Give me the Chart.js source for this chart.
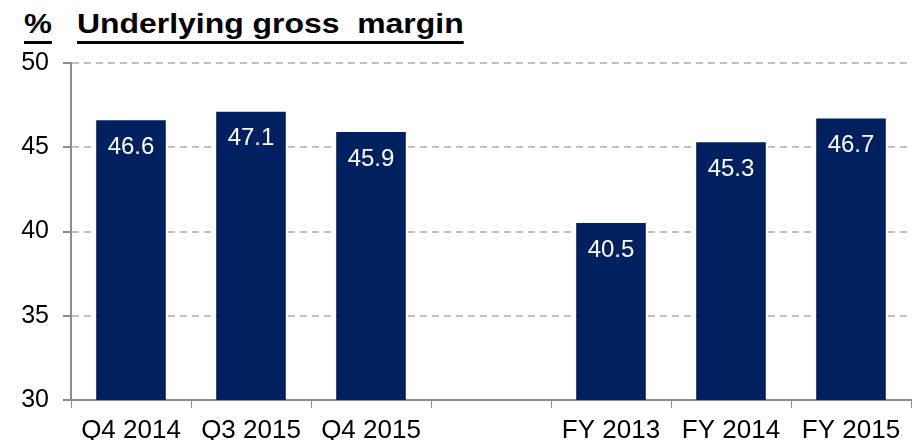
<!DOCTYPE html>
<html>
<head>
<meta charset="utf-8">
<script src="https://cdn.jsdelivr.net/npm/chart.js@4.4.1/dist/chart.umd.min.js"></script>
<style>
  html, body { margin: 0; padding: 0; background: #fff; }
  #wrap { position: relative; width: 913px; height: 440px; }
  .title {
    position: absolute; top: 10px; margin: 0;
    font-family: "Liberation Sans", Arial, sans-serif;
    font-weight: bold; font-size: 28px; line-height: 28px; color: #000;
    text-decoration: underline; text-decoration-thickness: 3px;
    text-underline-offset: 8px; white-space: pre;
    transform-origin: left top;
  }
  #unit { left: 24px; transform: scaleX(1.12); }
  #title { left: 77px; transform: scaleX(1.14); }
  canvas { position: absolute; left: 0; top: 0; }
</style>
</head>
<body>
<div id="wrap">
  <div class="title" id="unit">%</div>
  <div class="title" id="title">Underlying gross  margin</div>
  <canvas id="chart" width="913" height="440"></canvas>
</div>
<script>
// Chart data
const categories = ['Q4 2014', 'Q3 2015', 'Q4 2015', '', 'FY 2013', 'FY 2014', 'FY 2015'];
const grossMargin = [46.6, 47.1, 45.9, null, 40.5, 45.3, 46.7];
const yTicks = [30, 35, 40, 45, 50];

const NAVY = '#002060';
const AXIS_GREY = '#8c8c8c';
const GRID_GREY = '#c0c0c0';
const FONT = '"Liberation Sans", Arial, sans-serif';

// Draw value labels inside the top of each bar
const barLabels = {
    id: 'barLabels',
    afterDatasetsDraw(chart) {
        const ctx = chart.ctx;
        const meta = chart.getDatasetMeta(0);
        ctx.save();
        ctx.fillStyle = '#ffffff';
        ctx.font = '24px ' + FONT;
        ctx.textAlign = 'center';
        ctx.textBaseline = 'middle';
        meta.data.forEach((bar, i) => {
            const v = grossMargin[i];
            if (v === null) return;
            ctx.fillText(v.toFixed(1), bar.x, bar.y + 27);
        });
        ctx.restore();
    }
};

new Chart(document.getElementById('chart').getContext('2d'), {
    type: 'bar',
    data: {
        labels: categories,
        datasets: [{
            data: grossMargin,
            backgroundColor: NAVY,
            borderWidth: 0,
            barPercentage: 0.58,
            categoryPercentage: 1.0
        }]
    },
    options: {
        responsive: false,
        animation: false,
        layout: { padding: { top: 63, right: 2, left: 0, bottom: 0 } },
        plugins: {
            legend: { display: false },
            tooltip: { enabled: false }
        },
        scales: {
            x: {
                offset: true,
                grid: {
                    offset: true,
                    drawOnChartArea: false,
                    drawTicks: true,
                    tickLength: 8,
                    tickColor: AXIS_GREY
                },
                border: { color: AXIS_GREY, width: 2 },
                ticks: {
                    color: '#000',
                    font: { family: FONT, size: 26 },
                    padding: 7,
                    maxRotation: 0,
                    autoSkip: false
                },
                afterFit(scale) { scale.height = 40; }
            },
            y: {
                min: 30,
                max: 50,
                afterBuildTicks(scale) {
                    scale.ticks = yTicks.map(v => ({ value: v }));
                },
                grid: {
                    color: ctx => ctx.tick && ctx.tick.value === 30 ? 'rgba(0,0,0,0)' : GRID_GREY,
                    lineWidth: 2,
                    drawTicks: true,
                    tickLength: 8,
                    tickColor: AXIS_GREY,
                    tickBorderDash: []
                },
                border: { color: AXIS_GREY, width: 2, dash: [7, 5] },
                ticks: {
                    color: '#000',
                    font: { family: FONT, size: 25 },
                    padding: 14
                },
                afterFit(scale) { scale.width = 71; }
            }
        }
    },
    plugins: [barLabels]
});
</script>
</body>
</html>
